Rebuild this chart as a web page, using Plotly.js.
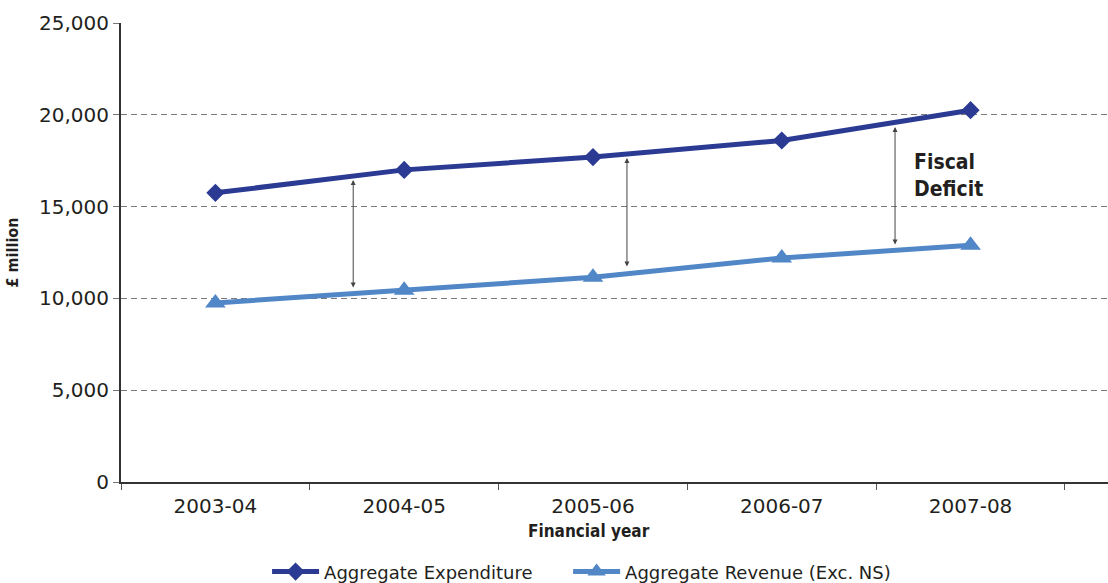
<!DOCTYPE html>
<html>
<head>
<meta charset="utf-8">
<script src="https://cdn.plot.ly/plotly-3.0.1.min.js"></script>
<style>html,body{margin:0;padding:0;background:#fff;}#chart{width:1108px;height:583px;}</style>
</head>
<body>
<div id="chart"></div>
<script>
// Data
const years = ["2003-04", "2004-05", "2005-06", "2006-07", "2007-08"];
const expenditure = [15750, 17000, 17700, 18600, 20250];
const revenue = [9750, 10450, 11150, 12200, 12900];
const yTicks = [0, 5000, 10000, 15000, 20000, 25000];
const yTickLabels = ["0", "5,000", "10,000", "15,000", "20,000", "25,000"];
// Fiscal-deficit arrows (category-index position, top and bottom values)
const arrowX = [0.73, 2.18, 3.60];
const arrowTop = [16450, 17650, 19340];
const arrowBottom = [10510, 11660, 12850];
const deficitLabel = "Fiscal<br>Deficit";
const deficitLabelPos = {x: 3.69, y: 16700};
const xTitle = "Financial year";
const yTitle = "£ million";

const bodyFont = "DejaVu Sans, Verdana, sans-serif";
const boldFont = "DejaVu Sans Condensed, Liberation Sans, sans-serif";

const traces = [
  {
    x: years, y: expenditure, name: "Aggregate Expenditure",
    type: "scatter", mode: "lines+markers", legend: "legend",
    line: {color: "#2b3a92", width: 5},
    marker: {symbol: "diamond", size: 14, color: "#2b3a92"}
  },
  {
    x: years, y: revenue, name: "Aggregate Revenue (Exc. NS)",
    type: "scatter", mode: "lines+markers", legend: "legend2",
    line: {color: "#5187c7", width: 5},
    marker: {symbol: "triangle-up", size: 18, color: "#5187c7"}
  }
];

const annotations = arrowX.map((x, i) => ({
  x: x, y: arrowTop[i], ax: x, ay: arrowBottom[i],
  xref: "x", yref: "y", axref: "x", ayref: "y",
  text: "", showarrow: true, arrowhead: 2, startarrowhead: 2,
  arrowside: "end+start", arrowsize: 1, startarrowsize: 1,
  arrowwidth: 1, arrowcolor: "#444"
}));
annotations.push({
  x: deficitLabelPos.x, y: deficitLabelPos.y, xref: "x", yref: "y",
  text: "<b>" + deficitLabel + "</b>", showarrow: false,
  xanchor: "left", yanchor: "middle", align: "left",
  font: {family: boldFont, size: 21, color: "#231f20"}
});
annotations.push({
  x: 0.474, y: -0.107, xref: "paper", yref: "paper",
  text: "<b>" + xTitle + "</b>", showarrow: false,
  xanchor: "center", yanchor: "middle",
  font: {family: boldFont, size: 17, color: "#231f20"}
});

const legendBase = {
  orientation: "h", xanchor: "left",
  yref: "container", y: 0.019, yanchor: "middle",
  font: {family: bodyFont, size: 18, color: "#231f20"},
  itemwidth: 47,
  bgcolor: "rgba(0,0,0,0)"
};

const layout = {
  width: 1108, height: 583,
  margin: {l: 121, r: 0, t: 23, b: 101, pad: 0, autoexpand: false},
  paper_bgcolor: "#fff", plot_bgcolor: "#fff",
  showlegend: true,
  legend: Object.assign({}, legendBase, {x: 0.148}),
  legend2: Object.assign({}, legendBase, {x: 0.453}),
  xaxis: {
    type: "category", range: [-0.5, 4.728],
    tickson: "boundaries", ticks: "outside", ticklen: 6, tickcolor: "#555", tickwidth: 1,
    ticklabelstandoff: 5,
    showgrid: false, zeroline: false,
    showline: true, linecolor: "#333", linewidth: 2,
    tickfont: {family: bodyFont, size: 20, color: "#231f20"},
    automargin: false,
    fixedrange: true
  },
  yaxis: {
    range: [0, 25000], tickmode: "array", tickvals: yTicks, ticktext: yTickLabels,
    ticks: "outside", ticklen: 6, tickcolor: "#777", tickwidth: 1,
    showgrid: true, gridcolor: "#7a7a7a", gridwidth: 1, griddash: "6px,4px",
    zeroline: false, showline: true, linecolor: "#333", linewidth: 2,
    tickfont: {family: bodyFont, size: 20, color: "#231f20"},
    title: {text: "<b>" + yTitle + "</b>", font: {family: boldFont, size: 16, color: "#231f20"}, standoff: 16},
    automargin: false,
    fixedrange: true
  },
  annotations: annotations
};

Plotly.newPlot("chart", traces, layout, {displayModeBar: false, staticPlot: true});
</script>
</body>
</html>
